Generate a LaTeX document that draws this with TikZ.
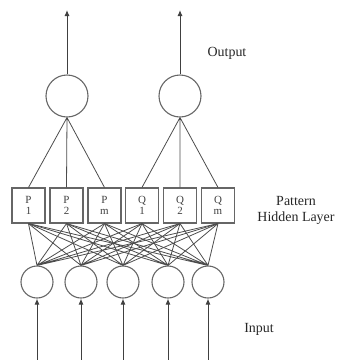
\documentclass[tikz,border=0pt]{standalone}
\usepackage{fontspec}
\setmainfont{Liberation Serif}
\usetikzlibrary{arrows.meta}

\begin{document}
\begin{tikzpicture}[x=1bp, y=-1bp,
    n/.style={circle, draw=black!60, line width=1.1pt, inner sep=0pt},
    p/.style={draw=black!60, line width=1.1pt, minimum width=33bp, minimum height=35bp,
      inner sep=0pt, align=center, font=\fontsize{11}{11}\selectfont, text=black!75},
    e/.style={draw=black!70, line width=0.8pt},
    a/.style={draw=black!75, line width=1pt, -{Latex[length=6bp, width=5bp]}},
    lbl/.style={font=\fontsize{14}{16}\selectfont, text=black!85, align=center}
]

    \useasboundingbox (0,0) rectangle (341,360);

    % output neurons
    \node[n, minimum size=42bp] (o1) at (67,96) {};
    \node[n, minimum size=42bp] (o2) at (180,96) {};

    \coordinate (t1) at (67,10);
    \coordinate (t2) at (180,10);

    % pattern layer
    \node[p] (p1) at (28.5,205.5) {P\\1};
    \node[p] (p2) at (66.5,205.5) {P\\2};
    \node[p] (pm) at (104.5,205.5) {P\\m};
    \node[p] (q1) at (142,205.5) {Q\\1};
    \node[p] (q2) at (180,205.5) {Q\\2};
    \node[p] (qm) at (218,205.5) {Q\\m};

    % input neurons
    \node[n, minimum size=32bp] (i1) at (37,282) {};
    \node[n, minimum size=32bp] (i2) at (81,282) {};
    \node[n, minimum size=32bp] (i3) at (123,282) {};
    \node[n, minimum size=32bp] (i4) at (168,282) {};
    \node[n, minimum size=32bp] (i5) at (208,282) {};

    \coordinate (b1) at (37,360);
    \coordinate (b2) at (81,360);
    \coordinate (b3) at (123,360);
    \coordinate (b4) at (168,360);
    \coordinate (b5) at (208,360);

    % output arrows
    \draw[a] (o1.north) -- (t1);
    \draw[a] (o2.north) -- (t2);

    % summation edges
    \draw[e] (o1.south)--(p1.north) (o1.south)--(p2.north) (o1.south)--(pm.north);
    \draw[e] (o2.south)--(q1.north) (o2.south)--(q2.north) (o2.south)--(qm.north);

    % input to pattern edges
    \draw[e] (i1.north)--(p1.south) (i1.north)--(p2.south) (i1.north)--(pm.south)
             (i1.north)--(q1.south) (i1.north)--(q2.south) (i1.north)--(qm.south);
    \draw[e] (i2.north)--(p1.south) (i2.north)--(p2.south) (i2.north)--(pm.south)
             (i2.north)--(q1.south) (i2.north)--(q2.south) (i2.north)--(qm.south);
    \draw[e] (i3.north)--(p1.south) (i3.north)--(p2.south) (i3.north)--(pm.south)
             (i3.north)--(q1.south) (i3.north)--(q2.south) (i3.north)--(qm.south);
    \draw[e] (i4.north)--(p1.south) (i4.north)--(p2.south) (i4.north)--(pm.south)
             (i4.north)--(q1.south) (i4.north)--(q2.south) (i4.north)--(qm.south);
    \draw[e] (i5.north)--(p1.south) (i5.north)--(p2.south) (i5.north)--(pm.south)
             (i5.north)--(q1.south) (i5.north)--(q2.south) (i5.north)--(qm.south);

    % input arrows
    \draw[a] (b1) -- (i1.south);
    \draw[a] (b2) -- (i2.south);
    \draw[a] (b3) -- (i3.south);
    \draw[a] (b4) -- (i4.south);
    \draw[a] (b5) -- (i5.south);

    % labels
    \node[lbl] (out) at (227,53) {Output};
    \node[lbl] (hid) at (296,210) {Pattern\\Hidden Layer};
    \node[lbl] (inp) at (259,329) {Input};

\end{tikzpicture}
\end{document}
